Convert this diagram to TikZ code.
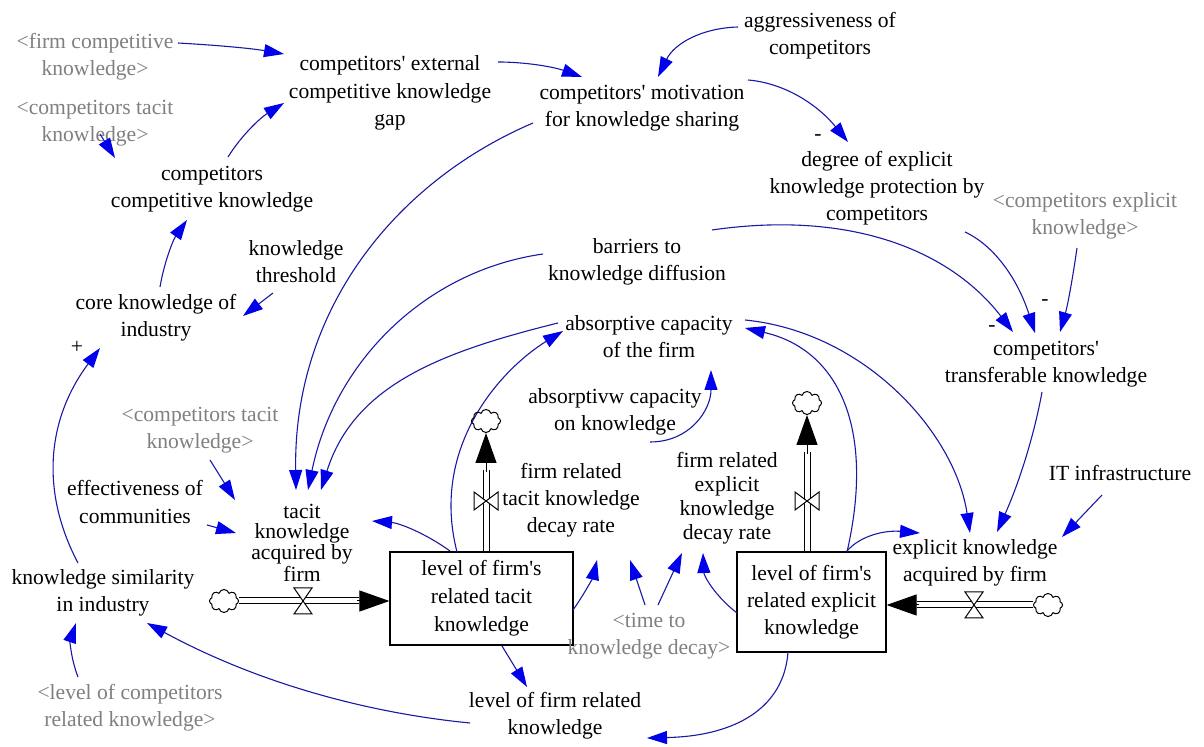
\documentclass[tikz,border=0pt]{standalone}
\usepackage{fontspec}
\setmainfont{Liberation Serif}
\usetikzlibrary{arrows.meta,calc,shapes.symbols}
\definecolor{linkblue}{RGB}{25,25,165}
\definecolor{headblue}{RGB}{0,0,235}
\definecolor{shadowgray}{RGB}{128,128,128}

\begin{document}
\begin{tikzpicture}[x=0.5pt,y=-0.5pt,
  var/.style={align=center,inner sep=0pt,font=\fontsize{10.8}{13.6}\selectfont},
  shadow/.style={var,text=shadowgray},
  stockbox/.style={draw,line width=0.6pt,minimum width=91.5pt,minimum height=46.5pt,
    align=center,inner sep=0pt,font=\fontsize{10.8}{14}\selectfont},
  conn/.style={draw=linkblue,line width=0.55pt,-{Triangle[length=10pt,width=6.5pt,color=headblue]}},
  flowpipe/.style={draw,line width=0.5pt,double,double distance=2.5pt},
  flowtip/.style={line width=0.5pt,-{Triangle[length=15pt,width=10.5pt]}},
  valveshape/.style={draw,fill=white,line width=0.5pt},
  cloudnode/.style={cloud,draw,cloud puffs=8,cloud ignores aspect,minimum width=14.5pt,
    minimum height=11.5pt,inner sep=0pt,line width=0.5pt},
  polarity/.style={inner sep=0pt,font=\fontsize{10.8}{13}\selectfont}
]
\fill[white] (0,0) rectangle (1204,747);
\useasboundingbox (0,0) rectangle (1204,747);

% ---------- variables ----------
\node[shadow] (ffck) at (95,57) {<firm competitive\\knowledge>};
\node[shadow] (ctk1) at (95,123) {<competitors tacit\\knowledge>};
\node[var] (gap) at (390,93) {competitors\textquotesingle{} external\\competitive knowledge\\gap};
\node[var] (motiv) at (642,108) {competitors\textquotesingle{} motivation\\for knowledge sharing};
\node[var] (aggr) at (820,36) {aggressiveness of\\competitors};
\node[var] (degree) at (877,188) {degree of explicit\\knowledge protection by\\competitors};
\node[shadow] (cek) at (1085,216) {<competitors explicit\\knowledge>};
\node[var] (cck) at (212,189) {competitors\\competitive knowledge};
\node[var] (thr) at (296,262) {knowledge\\threshold};
\node[var] (barr) at (637,262) {barriers to\\knowledge diffusion};
\node[var] (core) at (156,318) {core knowledge of\\industry};
\node[var] (absf) at (649,337) {absorptive capacity\\of the firm};
\node[var] (trans) at (1046,364) {competitors\textquotesingle\\transferable knowledge};
\node[var] (abk) at (615,412) {absorptivw capacity\\on knowledge};
\node[shadow] (ctk2) at (200,430) {<competitors tacit\\knowledge>};
\node[var] (eff) at (135,502) {effectiveness of\\communities};
\node[var,font=\fontsize{10.8}{9.8}\selectfont] (tka) at (302,543) {tacit\\knowledge\\acquired by\\firm};
\node[var] (tdr) at (571,500) {firm related\\tacit knowledge\\decay rate};
\node[var,font=\fontsize{10.8}{12}\selectfont] (edr) at (727,498) {firm related\\explicit\\knowledge\\decay rate};
\node[var] (it) at (1120,473) {IT infrastructure};
\node[var] (eka) at (975,563) {explicit knowledge\\acquired by firm};
\node[var] (ksim) at (103,593) {knowledge similarity\\in industry};
\node[stockbox] (tbox) at (481.5,598.5) {level of firm\textquotesingle s\\related tacit\\knowledge};
\node[stockbox,minimum width=74.5pt,minimum height=50pt,font=\fontsize{10.8}{13.4}\selectfont]
  (ebox) at (811.5,602) {level of firm\textquotesingle s\\related explicit\\knowledge};
\node[shadow] (ttd) at (649,636) {<time to\\knowledge decay>};
\node[var] (lfrk) at (555,716) {level of firm related\\knowledge};
\node[shadow] (lcrk) at (130,708) {<level of competitors\\related knowledge>};

% ---------- polarities ----------
\node[polarity] (p1) at (77,347) {+};
\node[polarity] (m1) at (818,138) {-};
\node[polarity] (m2) at (1045,303) {-};
\node[polarity] (m3) at (992,329) {-};

% ---------- causal links ----------
\draw[conn] ($(ffck)+(83,-14)$) .. controls +(35,2) and +(-35,-6) .. ($(gap)+(-106,-39)$);
\draw[conn] ($(cck)+(16,-32)$) .. controls +(13,-21) and +(-24,15) .. ($(gap)+(-106,10)$);
\draw[conn] ($(ctk1)+(5,11)$) -- ($(cck)+(-97,-31)$);
\draw[conn] ($(core)+(4,-31)$) .. controls +(4,-24) and +(-14,20) .. ($(cck)+(-25,31)$);
\draw[conn] ($(thr)+(-23,31)$) -- ($(core)+(87,-2)$);
\draw[conn] ($(ksim)+(-25,-30)$) .. controls +(-38,-72) and +(-53,71) .. ($(core)+(-56,30)$);
\draw[conn] ($(lcrk)+(-52,-31)$) .. controls +(-7,-18) and +(-6,18) .. ($(ksim)+(-27,30)$);
\draw[conn] ($(lfrk)+(-85,7)$) .. controls +(-112,-11) and +(103,56) .. ($(ksim)+(44,30)$);
\draw[conn] ($(tbox)+(20.5,47.5)$) -- ($(lfrk)+(-28,-29)$);
\draw[conn] ($(ebox)+(-23.5,50)$) .. controls +(-4,55) and +(90,-2) .. ($(lfrk)+(92,22)$);
\draw[conn] ($(ctk2)+(10,30)$) -- ($(tka)+(-67,-43)$);
\draw[conn] ($(eff)+(72,23)$) -- ($(tka)+(-66,-10)$);
\draw[conn] ($(tbox)+(-31.5,-47.5)$) .. controls +(-25,-18) and +(27,2) .. ($(tka)+(70,-22)$);
\draw[conn] ($(motiv)+(-109,15)$) .. controls +(-138,59) and +(-3,-180) .. ($(tka)+(-6,-53)$);
\draw[conn] ($(barr)+(-94,-8)$) .. controls +(-119,17) and +(26,-127) .. ($(tka)+(6,-53)$);
\draw[conn] ($(absf)+(-91,-14)$) .. controls +(-117,29) and +(33,-105) .. ($(tka)+(19,-53)$);
\draw[conn] ($(tbox)+(-24.5,-46.5)$) .. controls +(-27.5,-107) and +(-60,37) .. ($(absf)+(-86,-6)$);
\draw[conn] ($(abk)+(35,30)$) .. controls +(40,0) and +(0,40) .. ($(absf)+(62,33)$);
\draw[conn] ($(ebox)+(35.5,-50)$) .. controls +(28,-122) and +(95,22) .. ($(absf)+(96,-9)$);
\draw[conn] ($(absf)+(96,-17)$) .. controls +(120,12) and +(-15,-100) .. ($(eka)+(-5,-30)$);
\draw[conn] ($(trans)+(-4,28)$) .. controls +(-8,44) and +(22,-49) .. ($(eka)+(22,-31)$);
\draw[conn] ($(it)+(-18,22)$) -- ($(eka)+(87,-26)$);
\draw[conn] ($(ebox)+(35.5,-51)$) .. controls +(13,-15) and +(-36,-3) .. ($(eka)+(-55,-30)$);
\draw[conn] ($(tbox)+(91.5,11.5)$) .. controls +(12,-17) and +(-4,17) .. ($(tdr)+(26,60)$);
\draw[conn] ($(ttd)+(-4,-31)$) -- ($(tdr)+(59,60)$);
\draw[conn] ($(ttd)+(9,-31)$) -- ($(edr)+(-45,55)$);
\draw[conn] ($(ebox)+(-74.5,11)$) .. controls +(-22,-17) and +(1,23) .. ($(edr)+(-24,55)$);
\draw[conn] ($(gap)+(108,-31)$) .. controls +(28,0) and +(-28,-10) .. ($(motiv)+(-60,-31)$);
\draw[conn] ($(aggr)+(-82,-9)$) .. controls +(-37,1) and +(16,-33) .. ($(motiv)+(16,-31)$);
\draw[conn] ($(motiv)+(106,-28)$) .. controls +(36,3) and +(-31,-38) .. ($(degree)+(-29,-46)$);
\draw[conn] ($(barr)+(75,-32)$) .. controls +(138,-20) and +(-63,-82) .. ($(trans)+(-33,-32)$);
\draw[conn] ($(degree)+(88,44)$) .. controls +(30,14) and +(-17,-53) .. ($(trans)+(-11,-31)$);
\draw[conn] ($(cek)+(-8,32)$) .. controls +(-4,28) and +(8,-28) .. ($(trans)+(14,-32)$);

% ---------- flows ----------
\node[cloudnode] (c1) at (224,601) {};
\node[cloudnode] (c2) at (486,421) {};
\node[cloudnode] (c3) at (807,403) {};
\node[cloudnode] (c4) at (1048,605) {};

% tacit inflow
\draw[flowpipe] (c1.east) -- ($(c1.east)+(120,0)$);
\draw[flowtip] ($(c1.east)+(118,0)$) -- (tbox.west |- c1.east);
% tacit decay
\draw[flowpipe] (c2 |- tbox.north) -- ($(c2.south)+(0,37)$);
\draw[flowtip] ($(c2.south)+(0,39)$) -- (c2.south);
% explicit decay
\draw[flowpipe] (c3 |- ebox.north) -- ($(c3.south)+(0,37)$);
\draw[flowtip] ($(c3.south)+(0,39)$) -- (c3.south);
% explicit inflow
\draw[flowpipe] (c4.west) -- ($(c4.west)+(-116,0)$);
\draw[flowtip] ($(c4.west)+(-114,0)$) -- (ebox.east |- c4.west);

% valves
\coordinate (v1) at (303,601);
\coordinate (v2) at (486,501);
\coordinate (v3) at (807,501);
\coordinate (v4) at (974,605);
\foreach \v in {v1,v4}
  \draw[valveshape] ($(\v)+(-9,-13)$) -- ($(\v)+(9,-13)$) -- ($(\v)+(-9,13)$) -- ($(\v)+(9,13)$) -- cycle;
\foreach \v in {v2,v3}
  \draw[valveshape] ($(\v)+(-12,-9)$) -- ($(\v)+(-12,9)$) -- ($(\v)+(12,-9)$) -- ($(\v)+(12,9)$) -- cycle;
\end{tikzpicture}
\end{document}
